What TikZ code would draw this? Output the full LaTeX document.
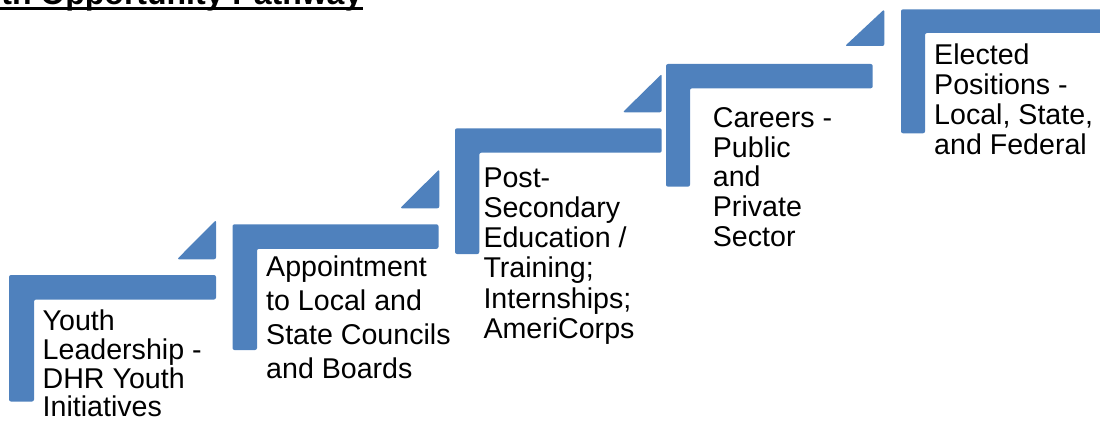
\documentclass[tikz,border=0pt]{standalone}
\usepackage{fontspec}
\setmainfont{Liberation Sans}
\definecolor{stepblue}{HTML}{4F81BD}
\tikzset{
  stepshape/.style={fill=stepblue, draw=none, rounded corners=2pt},
  steptext/.style={anchor=base west, align=left, inner sep=0pt,
    font=\fontsize{28.6pt}{#1}\selectfont},
  titletext/.style={anchor=base east, inner sep=0pt,
    font=\fontsize{32pt}{36pt}\selectfont\bfseries},
}
\begin{document}
\begin{tikzpicture}[x=1pt,y=-1pt]
\useasboundingbox (0,0) rectangle (1100,425);
% title (cut off at the top)
\node[titletext] (title) at (362.5,4.5) {th Opportunity Pathway};
\fill (0,6.7) rectangle (362.5,10);
% step 1
\fill[stepshape] (9,275) -- (216,275) -- (216,299.5) -- (34,299.5) -- (34,401.5) -- (9,401.5) -- cycle;
\fill[stepshape] (177,259.3) -- (216,220) -- (216,259.3) -- cycle;
% step 2
\fill[stepshape] (232.5,224.3) -- (438.5,224.3) -- (438.5,248.8) -- (257,248.8) -- (257,350) -- (232.5,350) -- cycle;
\fill[stepshape] (400,208.3) -- (439.3,169.3) -- (439.3,208.3) -- cycle;
% step 3
\fill[stepshape] (455,128.3) -- (661.7,128.3) -- (661.7,152.7) -- (479.3,152.7) -- (479.3,254) -- (455,254) -- cycle;
\fill[stepshape] (622.7,112.3) -- (661.7,74) -- (661.7,112.3) -- cycle;
% step 4
\fill[stepshape] (666,64) -- (872.7,64) -- (872.7,88.3) -- (690,88.3) -- (690,186.7) -- (666,186.7) -- cycle;
\fill[stepshape] (845,46) -- (884.3,9.3) -- (884.3,46) -- cycle;
% step 5
\fill[stepshape] (901,9.3) -- (1112,9.3) -- (1112,33) -- (925,33) -- (925,133.3) -- (901,133.3) -- cycle;
% texts (anchor at the baseline of the last line)
\node[steptext=28.7pt] (t1) at (42.5,416.8) {Youth\\Leadership -\\DHR Youth\\Initiatives};
\node[steptext=33.9pt] (t2) at (266,378.4) {Appointment\\to Local and\\State Councils\\and Boards};
\node[steptext=30.2pt] (t3) at (483.3,338.3) {Post-\\Secondary\\Education /\\Training;\\Internships;\\AmeriCorps};
\node[steptext=29.8pt] (t4) at (712.7,246.5) {Careers -\\Public\\and\\Private\\Sector};
\node[steptext=30.3pt] (t5) at (934,154.9) {Elected\\Positions -\\Local, State,\\and Federal};
\end{tikzpicture}
\end{document}
